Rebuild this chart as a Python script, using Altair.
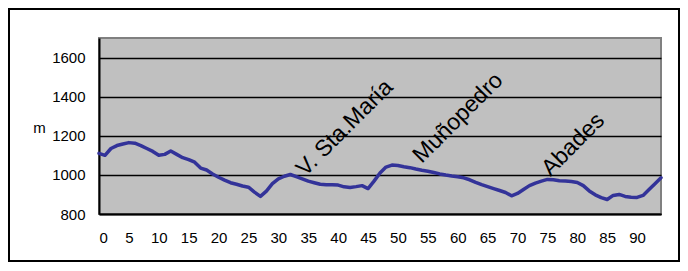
import altair as alt
import pandas as pd

km = list(range(0, 95))
elev = [1110, 1100, 1135, 1150, 1158, 1165, 1162, 1150, 1135, 1120,
        1100, 1105, 1122, 1105, 1088, 1078, 1065, 1035, 1025, 1005,
        988, 973, 960, 952, 943, 937, 912, 890, 917, 955,
        980, 993, 1002, 991, 980, 968, 960, 952, 950, 950,
        948, 939, 936, 940, 945, 930, 968, 1010, 1040, 1050,
        1048, 1042, 1037, 1030, 1024, 1019, 1012, 1005, 999, 994,
        990, 985, 975, 962, 950, 940, 930, 920, 910, 893,
        905, 925, 945, 958, 968, 977, 975, 970, 969, 966,
        961, 945, 918, 898, 884, 874, 895, 900, 890, 886,
        885, 895, 925, 955, 985]

place_names = ["V. Sta.María", "Muñopedro", "Abades"]
place_km = [34.5, 54.0, 75.5]
place_elev = [988, 1056, 989]

x_ticks = list(range(0, 91, 5))
y_ticks = [800, 1000, 1200, 1400, 1600]

profile = pd.DataFrame({"km": km, "elev": elev})
places = pd.DataFrame({"name": place_names, "km": place_km, "elev": place_elev})

FONT = "Liberation Sans"

xs = alt.Scale(domain=[0, 94], nice=False, zero=False)
ys = alt.Scale(domain=[800, 1700], nice=False, zero=False)

x_axis = alt.Axis(
    values=x_ticks, ticks=False, grid=False, title=None, format="d",
    labelOverlap=False, labelFontSize=15, labelPadding=16,
    labelColor="black", labelFont=FONT,
    domainColor="black", domainWidth=2)
y_axis = alt.Axis(
    values=y_ticks, ticks=False, grid=True, gridColor="black", gridWidth=1.5,
    format="d", labelOverlap=False,
    title="m", titleAngle=0, titleX=-60, titleY=89, titleAlign="center",
    titleBaseline="middle", titleFontSize=15, titleFontWeight="normal",
    titleFont=FONT, titleColor="black",
    labelFontSize=15, labelPadding=14, labelColor="black", labelFont=FONT,
    domainColor="black", domainWidth=2)

line = alt.Chart(profile).mark_line(
    color="#333399", strokeWidth=3.5, strokeJoin="round", strokeCap="round"
).encode(
    x=alt.X("km:Q", scale=xs, axis=x_axis),
    y=alt.Y("elev:Q", scale=ys, axis=y_axis),
)

labels = alt.Chart(places).mark_text(
    align="left", baseline="alphabetic", angle=315, fontSize=23, font=FONT, color="black"
).encode(
    x=alt.X("km:Q", scale=xs, axis=x_axis),
    y=alt.Y("elev:Q", scale=ys, axis=y_axis),
    text="name:N",
)

frame = alt.Chart(pd.DataFrame({"a": [0]})).mark_rect(
    filled=False, stroke="black", strokeWidth=2, clip=False
).encode(
    x=alt.value(-90), x2=alt.value(580), y=alt.value(-29), y2=alt.value(223)
)

chart = alt.layer(frame, line, labels).properties(
    width=562, height=176,
    autosize=alt.AutoSizeParams(type="none"),
    padding={"left": 91, "top": 30, "right": 19, "bottom": 49},
    background="white",
).configure_view(
    fill="#c0c0c0", stroke="#808080", strokeWidth=2
)

chart.save("out.html", embed_options={"renderer": "svg", "actions": False})
